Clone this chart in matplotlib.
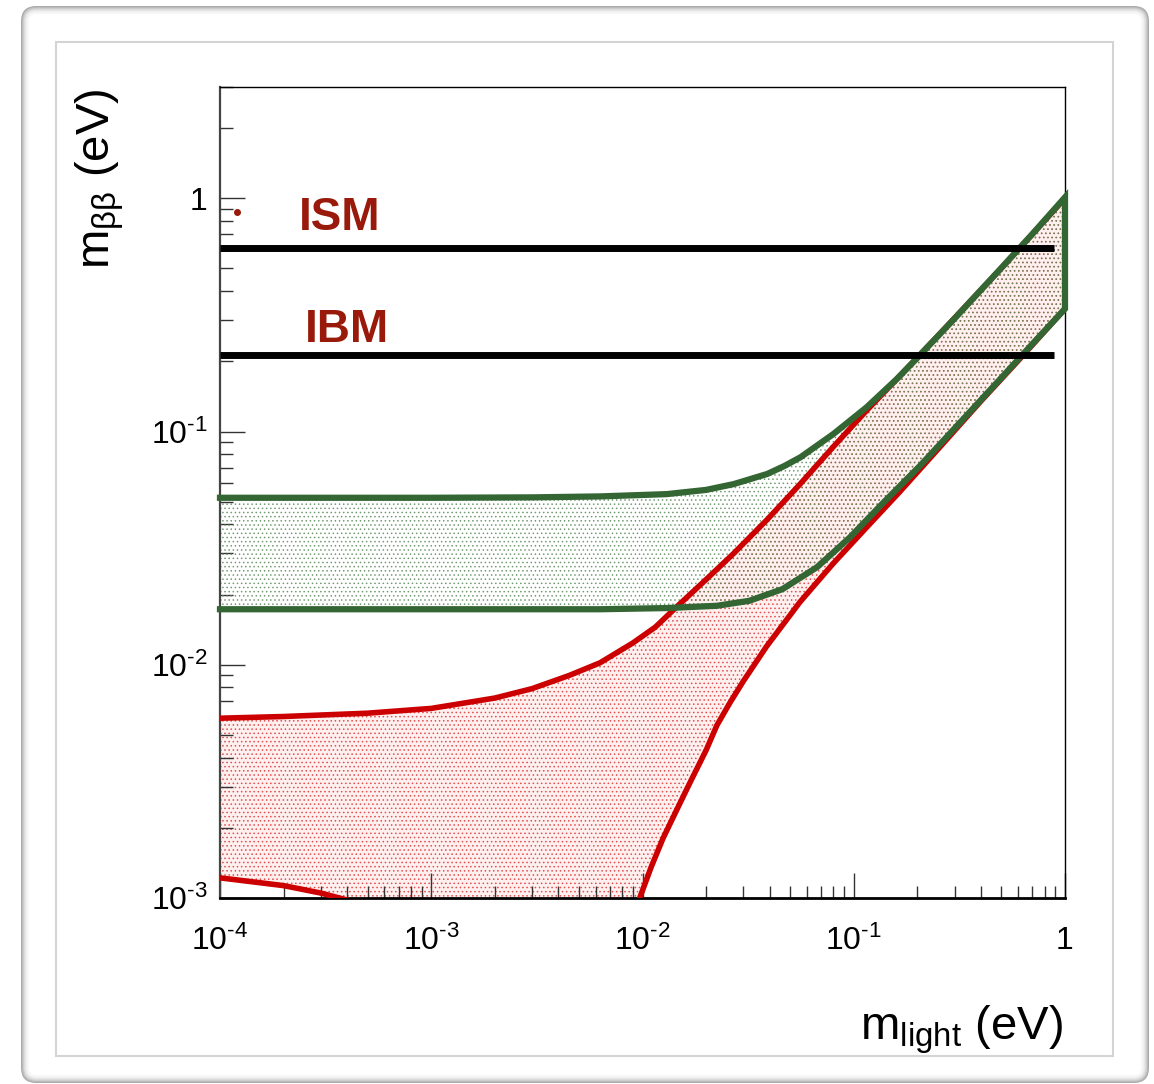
import numpy as np
import matplotlib
matplotlib.use("Agg")
import matplotlib.pyplot as plt
from matplotlib.ticker import LogLocator, FuncFormatter, NullFormatter
from matplotlib.patches import FancyBboxPatch, Rectangle

plt.rcParams['font.family'] = ['Liberation Sans', 'DejaVu Sans']
plt.rcParams['mathtext.fontset'] = 'custom'
plt.rcParams['mathtext.rm'] = 'Liberation Sans'
plt.rcParams['mathtext.it'] = 'Liberation Sans:italic'
plt.rcParams['mathtext.bf'] = 'Liberation Sans:bold'
plt.rcParams['hatch.linewidth'] = 0.6

# ---------------- data ----------------
# Inverted hierarchy band (green)
ih_up_x = [1e-4, 1e-3, 3e-3, 6.3e-3, 1.3e-2, 2e-2, 2.7e-2, 3.9e-2, 4.7e-2, 5.6e-2, 8e-2, 0.115,
           0.16, 0.2, 0.3, 0.5, 0.7, 1.0]
ih_upper = [0.0520, 0.0520, 0.0522, 0.0527, 0.0539, 0.0562, 0.0595, 0.0658, 0.0712, 0.0776, 0.0975,
            0.127, 0.168, 0.207, 0.305, 0.503, 0.702, 1.01]
ih_lo_x = [1e-4, 1e-3, 3e-3, 6.3e-3, 1.3e-2, 2.25e-2, 3.2e-2, 4.6e-2, 6.7e-2, 9.6e-2, 0.138, 0.206,
           0.3, 0.5, 0.7, 1.0]
ih_lower = [0.0173, 0.0173, 0.0173, 0.0173, 0.0175, 0.0179, 0.0188, 0.0211, 0.0262, 0.0352, 0.0495,
            0.0713, 0.103, 0.170, 0.237, 0.336]

# Normal hierarchy band (red)
nh_up_x = [1e-4, 2e-4, 5e-4, 1e-3, 2e-3, 3e-3, 4.5e-3, 6.3e-3, 9e-3, 1.15e-2, 1.45e-2, 2e-2, 2.7e-2,
           3.9e-2, 5.57e-2, 8e-2, 0.115, 0.165, 0.25, 0.5, 1.0]
nh_upper = [0.0059, 0.0060, 0.0062, 0.0065, 0.0072, 0.0079, 0.0090, 0.0102, 0.0124, 0.0145, 0.0177,
            0.0232, 0.0300, 0.0420, 0.0595, 0.0860, 0.123, 0.173, 0.257, 0.502, 1.00]
nh_lo_x = [1e-4, 2e-4, 3e-4, 4e-4, 5e-4, 1e-3, 3e-3, 6e-3, 9e-3, 0.0097, 0.0110, 0.0125, 0.0145,
           0.0170, 0.0200, 0.0225, 0.0260, 0.030, 0.0387, 0.0557, 0.080, 0.115, 0.165, 0.25, 0.4,
           0.6, 1.0]
nh_lower = [0.00122, 0.00113, 0.00105, 0.00098, 0.00092, 0.0006, 0.0001, 0.0002, 0.0008, 0.00100,
            0.00136, 0.00180, 0.00238, 0.00320, 0.00430, 0.0055, 0.0069, 0.0085, 0.0120, 0.0186,
            0.0272, 0.0388, 0.0551, 0.0838, 0.135, 0.201, 0.336]

# Experimental limits
limit_names = ["ISM", "IBM"]
limit_values = [0.615, 0.213]
limit_xrange = [1e-4, 0.887]

# stray marker
dot_x = [1.2e-4]
dot_y = [0.87]

# ---------------- figure ----------------
W, H = 1154, 1084
fig = plt.figure(figsize=(W / 100, H / 100), dpi=100)
fig.patch.set_facecolor('white')


def fx(px):
    return px / W


def fy(py):
    return 1 - py / H


# outer rounded frame with soft shadow
shades = ['#a8a8a8', '#bcbcbc', '#cecece', '#dcdcdc', '#e7e7e7', '#f0f0f0', '#f7f7f7']
for i, c in enumerate(shades):
    x0, y0, x1, y1 = 22 + i, 7 + i, 1148 - i, 1082 - i
    p = FancyBboxPatch((x0, H - y1), x1 - x0, y1 - y0,
                       boxstyle="round,pad=0,rounding_size=%d" % (14 - i),
                       transform=None, facecolor='white' if i == len(shades) - 1 else 'none',
                       edgecolor=c, linewidth=1.4, zorder=-10 + i)
    fig.patches.append(p)

inner = Rectangle((56, H - 1056), 1113 - 56, 1056 - 42, transform=None,
                  facecolor='white', edgecolor='#d4d4d4', linewidth=1.5, zorder=-2)
fig.patches.append(inner)

ax = fig.add_axes([fx(220), fy(898), (1065 - 220) / W, (898 - 87) / H])
ax.set_facecolor('white')
ax.set_xscale('log')
ax.set_yscale('log')
ax.set_xlim(1e-4, 1)
ax.set_ylim(1e-3, 3.0)

red = '#cc0000'
green = '#336633'

# fills
ax.fill(np.concatenate([nh_up_x, nh_lo_x[::-1]]), np.concatenate([nh_upper, nh_lower[::-1]]),
        facecolor='#fff0f0', edgecolor='#e05050', hatch='....', linewidth=0, zorder=1)
ax.fill(np.concatenate([ih_up_x, ih_lo_x[::-1]]), np.concatenate([ih_upper, ih_lower[::-1]]),
        facecolor='none', edgecolor='#5a8a5a', hatch='....', linewidth=0, zorder=2, alpha=0.8)

# red outlines
ax.plot(nh_up_x, nh_upper, color=red, lw=4.0, zorder=3, solid_capstyle='butt')
ax.plot(nh_lo_x, nh_lower, color=red, lw=4.0, zorder=3, solid_capstyle='butt')

# green outline (upper, right edge, lower)
gx = list(ih_up_x) + list(ih_lo_x[::-1])
gy = list(ih_upper) + list(ih_lower[::-1])
ax.plot(gx, gy, color=green, lw=4.5, zorder=4, solid_joinstyle='miter', clip_on=False)

# limit lines
for v in limit_values:
    ax.hlines(v, limit_xrange[0], limit_xrange[1], color='black', lw=5, zorder=5)

ax.text(0.142, 0.838, limit_names[0], transform=ax.transAxes, ha='center', va='center',
        fontsize=33, fontweight='bold', color='#991a0a')
ax.text(0.150, 0.700, limit_names[1], transform=ax.transAxes, ha='center', va='center',
        fontsize=33, fontweight='bold', color='#991a0a')

ax.plot(dot_x, dot_y, 'o', color='#991a0a', ms=4, zorder=6)

# axes styling
for s in ['top', 'right']:
    ax.spines[s].set_linewidth(1.0)
    ax.spines[s].set_color('black')
ax.spines['left'].set_linewidth(1.6)
ax.spines['left'].set_color('#444444')
ax.spines['bottom'].set_linewidth(2.0)
ax.spines['bottom'].set_color('black')

ax.xaxis.set_major_locator(LogLocator(base=10, numticks=10))
ax.yaxis.set_major_locator(LogLocator(base=10, numticks=10))
ax.xaxis.set_minor_locator(LogLocator(base=10, subs=np.arange(2, 10), numticks=20))
ax.yaxis.set_minor_locator(LogLocator(base=10, subs=np.arange(2, 10), numticks=20))


def fmt(v, pos):
    if abs(v - 1) < 1e-9:
        return '1'
    e = int(round(np.log10(v)))
    if e < 0:
        return r'$\mathregular{10^{\text{-}%d}}$' % (-e)
    return r'$\mathregular{10^{%d}}$' % e


ax.xaxis.set_major_formatter(FuncFormatter(fmt))
ax.yaxis.set_major_formatter(FuncFormatter(fmt))
ax.xaxis.set_minor_formatter(NullFormatter())
ax.yaxis.set_minor_formatter(NullFormatter())

ax.tick_params(which='both', direction='in', top=False, right=False, color='#333333', width=1.0)
ax.tick_params(which='major', length=18, labelsize=23)
ax.tick_params(which='minor', length=9)
ax.tick_params(axis='x', which='major', pad=20)
ax.tick_params(axis='y', which='major', pad=9)

fig.text(fx(1063), fy(1039), r'$\mathregular{m_{light}}$ (eV)', ha='right', va='baseline', fontsize=34)
fig.text(fx(100), fy(88), r'$\mathregular{m_{ββ}}$ (eV)', ha='center', va='top', rotation=90, fontsize=34)

fig.savefig('out.png', dpi=100, facecolor='white')
